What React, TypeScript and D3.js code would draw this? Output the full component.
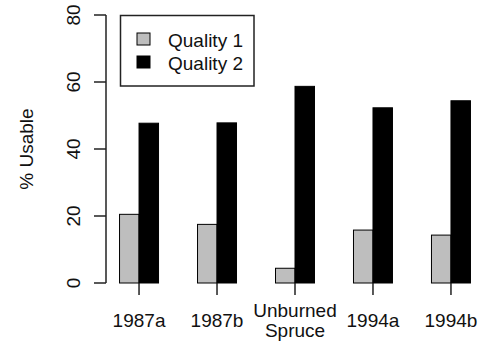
import React from "react";
import * as d3 from "d3";

const categories: string[][] = [["1987a"], ["1987b"], ["Unburned", "Spruce"], ["1994a"], ["1994b"]];
const quality1: number[] = [20.5, 17.5, 4.4, 15.8, 14.3];
const quality2: number[] = [47.7, 47.8, 58.7, 52.3, 54.4];
const seriesNames: string[] = ["Quality 1", "Quality 2"];
const seriesColors: string[] = ["#bebebe", "#000000"];
const yTicks: number[] = [0, 20, 40, 60, 80];

const W = 488;
const H = 347;
const FONT = "'Liberation Sans', Arial, Helvetica, sans-serif";
const FS = 19;

export default function App() {
  // R barplot-like unit layout: space=c(0,2), each bar width 1
  const space = 2;
  const nGroups = categories.length;
  const total = nGroups * (space + 2);
  const pad = (total - space) * 0.04;
  const x = d3.scaleLinear().domain([space - pad, total + pad]).range([105.5, 484.5]);
  const y = d3.scaleLinear().domain([0, 80]).range([283, 15]);
  const series = [quality1, quality2];
  const unit = x(1) - x(0);

  const bars: React.ReactNode[] = [];
  categories.forEach((_, gi) => {
    series.forEach((vals, si) => {
      const left = gi * (space + 2) + space + si;
      const x0 = x(left);
      bars.push(
        <rect
          key={`b${gi}-${si}`}
          x={x0}
          y={y(vals[gi])}
          width={unit}
          height={y(0) - y(vals[gi])}
          fill={seriesColors[si]}
          stroke="#000"
          strokeWidth={1}
        />
      );
    });
  });

  const tickX = categories.map((_, gi) => x(gi * (space + 2) + space + 1));

  return (
    <svg width={W} height={H} style={{ position: "absolute", left: 0, top: 0, background: "#fff" }} fontFamily={FONT}>
      <rect x={0} y={0} width={W} height={H} fill="#fff" />
      {/* y axis */}
      <line x1={106} x2={106} y1={y(80)} y2={y(0)} stroke="#222" strokeWidth={1.5} />
      {yTicks.map((t) => (
        <g key={`yt${t}`}>
          <line x1={94} x2={106} y1={y(t)} y2={y(t)} stroke="#222" strokeWidth={1.5} />
          <text
            transform={`translate(80,${y(t)}) rotate(-90)`}
            textAnchor="middle"
            fontSize={FS}
            fill="#111"
          >
            {t}
          </text>
        </g>
      ))}
      <text transform={`translate(33,${(y(0) + y(80)) / 2}) rotate(-90)`} textAnchor="middle" fontSize={FS} fill="#111">
        % Usable
      </text>
      {bars}
      {/* x ticks */}
      {tickX.map((tx, i) => (
        <g key={`xt${i}`}>
          <line x1={tx} x2={tx} y1={283} y2={295} stroke="#222" strokeWidth={1.5} />
          {categories[i].map((line, li) => (
            <text
              key={li}
              x={tx}
              y={327 + (li - (categories[i].length - 1) / 2) * 20}
              textAnchor="middle"
              fontSize={FS}
              fill="#111"
            >
              {line}
            </text>
          ))}
        </g>
      ))}
      {/* legend */}
      <rect x={120.5} y={15.5} width={133.5} height={70.5} fill="#fff" stroke="#222" strokeWidth={1.5} />
      {seriesNames.map((name, i) => (
        <g key={name}>
          <rect x={137} y={33 + i * 23} width={13} height={12} fill={seriesColors[i]} stroke="#000" strokeWidth={1} />
          <text x={168} y={46.5 + i * 23} fontSize={FS} fill="#111">
            {name}
          </text>
        </g>
      ))}
    </svg>
  );
}
